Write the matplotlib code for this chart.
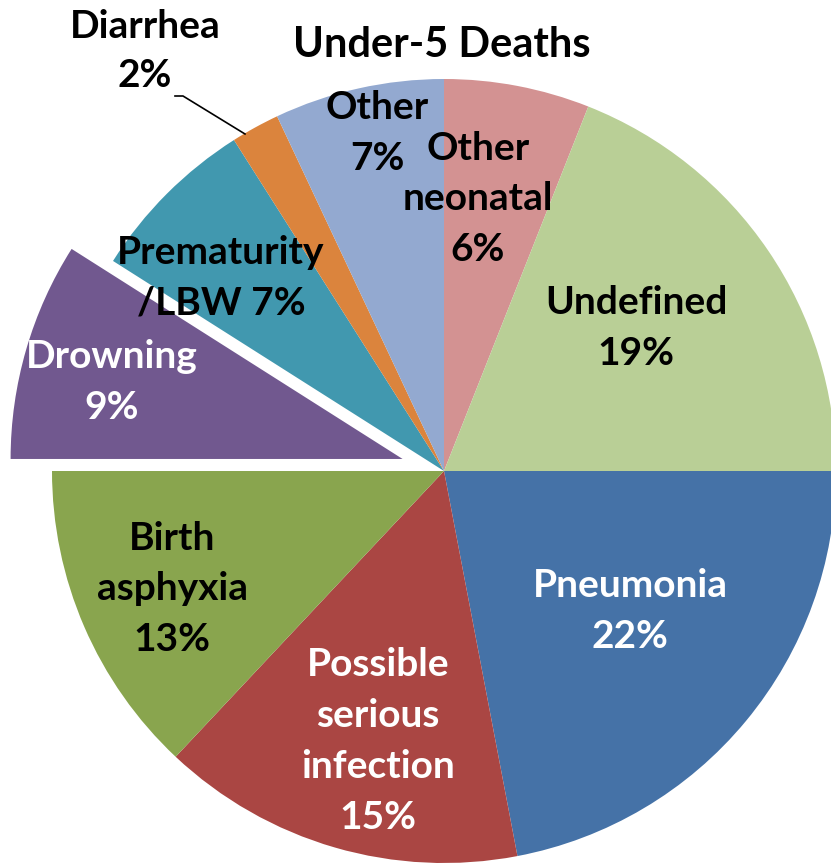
import matplotlib
matplotlib.use("Agg")
import matplotlib.pyplot as plt

# Causes of under-5 deaths, clockwise from 12 o'clock
causes = ["Other\nneonatal", "Undefined", "Pneumonia", "Possible\nserious\ninfection",
          "Birth\nasphyxia", "Drowning", "Prematurity\n/LBW", "Diarrhea", "Other"]
shares = [6, 19, 22, 15, 13, 9, 7, 2, 7]
colors = ["#D39292", "#B9CF96", "#4572A7", "#AA4643", "#89A54E",
          "#71588F", "#4198AF", "#DB843D", "#93A9D0"]
label_colors = ["black", "black", "white", "white", "black",
                "white", "black", "black", "black"]
explode = [0, 0, 0, 0, 0, 0.11, 0, 0, 0]

W, H = 831, 864
CX, CY, R = 444, 471, 392

fig = plt.figure(figsize=(W / 100, H / 100), dpi=100)
ax = fig.add_axes([0, 0, 1, 1])

ax.pie(shares, colors=colors, startangle=90, counterclock=False,
       explode=explode, radius=1.0, center=(0, 0),
       wedgeprops=dict(linewidth=0))

ax.set_xlim(-CX / R, (W - CX) / R)
ax.set_ylim(-(H - CY) / R, CY / R)
ax.set_aspect("equal")
ax.axis("off")


def px(x, y):
    return (x - CX) / R, (CY - y) / R


font = dict(family=["Lato", "DejaVu Sans"], fontweight="bold", fontsize=28,
            ha="center", va="center", linespacing=1.55)

# label centres in pixel space
label_pos = {
    "Other\nneonatal": (478, 199),
    "Undefined": (636, 328),
    "Pneumonia": (630, 611),
    "Possible\nserious\ninfection": (378, 741),
    "Birth\nasphyxia": (172, 589),
    "Drowning": (112, 382),
    "Prematurity\n/LBW": (221, 278),
    "Other": (377, 133),
}

for name, val, col in zip(causes, shares, label_colors):
    if name == "Diarrhea":
        continue
    if name == "Prematurity\n/LBW":
        text = f"{name} {val}%"
    else:
        text = f"{name}\n{val}%"
    ax.text(*px(*label_pos[name]), text, color=col, **font)

# Diarrhea label with leader line
i = causes.index("Diarrhea")
dfont = dict(font, linespacing=1.45)
ax.text(*px(145, 51), f"{causes[i]}\n{shares[i]}%", color="black", **dfont)
lx, ly = zip(px(175, 96), px(183, 96), px(245, 134))
ax.plot(lx, ly, color="black", linewidth=1.2)

ax.text(*px(442, 45), "Under-5 Deaths", color="black",
        family=["Lato", "DejaVu Sans"], fontweight="bold", fontsize=30,
        ha="center", va="center")

fig.savefig("out.png", dpi=100)
